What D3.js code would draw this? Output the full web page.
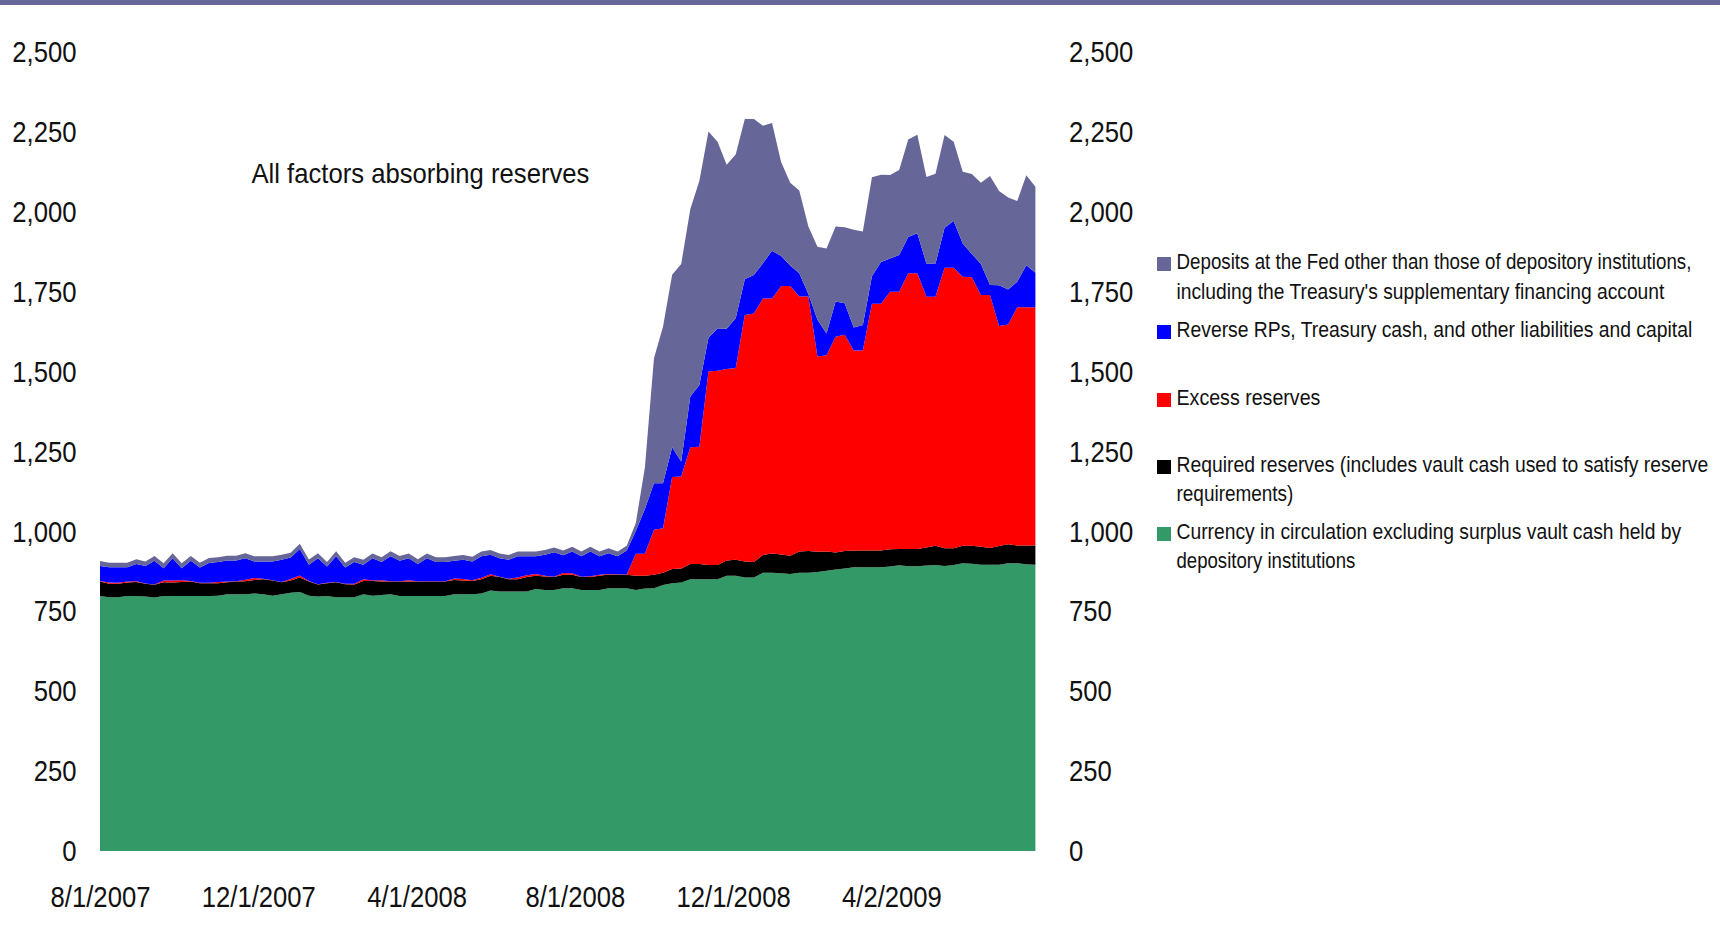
<!DOCTYPE html>
<html>
<head>
<meta charset="utf-8">
<script src="https://cdn.jsdelivr.net/npm/d3@7"></script>
<style>
  html, body { margin: 0; padding: 0; background: #ffffff; }
  svg { display: block; font-family: "Liberation Sans", Arial, sans-serif; }
</style>
</head>
<body>
<svg id="chart" width="1720" height="946"></svg>
<script>
// Weekly Wednesday observations, 8/1/2007 through 7/22/2009 (billions of dollars)
const firstWeek = "2007-08-01";
const lastWeek = "2009-07-22";

const currency = [
  798, 794, 794, 798, 798, 796, 793, 798, 798, 798, 798, 798, 798, 799, 803, 803, 803, 806, 803, 799, 803, 808, 810, 799, 796, 798,
  794, 794, 794, 803, 799, 801, 803, 798, 798, 798, 798, 798, 798, 803, 803, 803, 806, 815, 812, 812, 812, 812, 820, 817, 817, 822,
  822, 817, 817, 817, 822, 822, 822, 817, 821, 822, 832, 838, 840, 850, 850, 850, 850, 861, 861, 856, 856, 871, 871, 869, 867, 871,
  871, 873, 877, 881, 884, 888, 888, 888, 888, 890, 894, 891, 891, 893, 895, 892, 895, 900, 899, 896, 896, 896, 900, 900, 897, 896
];

const requiredReserves = [
  45, 42, 42, 42, 44, 40, 40, 43, 42, 44, 45, 40, 40, 39, 38, 40, 41, 42, 47, 47, 38, 38, 46, 44, 38, 40,
  47, 41, 40, 42, 46, 42, 40, 45, 45, 45, 45, 45, 45, 45, 43, 42, 44, 46, 45, 38, 38, 45, 41, 42, 40, 42,
  42, 40, 40, 44, 43, 42, 42, 44, 40, 42, 39, 44, 44, 48, 48, 45, 45, 48, 50, 50, 48, 55, 60, 59, 57, 66,
  68, 63, 60, 53, 55, 52, 52, 52, 52, 54, 51, 54, 54, 57, 60, 55, 52, 55, 56, 56, 52, 58, 60, 56, 59, 60
];

const excessReserves = [
  2, 4, 3, 3, 2, 1, 1, 5, 6, 5, 2, 1, 1, 4, 2, 1, 5, 6, 2, 1, 1, 5, 6, 2, 1, 1,
  1, 1, 2, 5, 1, 4, 1, 1, 4, 1, 1, 1, 1, 5, 5, 2, 5, 5, 1, 2, 6, 6, 6, 2, 1, 6,
  5, 1, 3, 3, 2, 2, 1,
  69, 69, 141, 139, 288, 288, 365, 367, 605, 608, 599, 600, 771, 778, 803, 798, 840, 844, 798, 796,
  611, 614, 675, 676, 626, 626, 772, 772, 806, 805, 863, 863, 784, 779, 878, 878, 842, 840, 788, 792,
  689, 687, 745, 745, 745
];

const reverseRPs = [
  47, 48, 49, 45, 54, 55, 74, 39, 70, 38, 63, 48, 62, 62, 66, 65, 67, 52, 54, 59, 69, 67, 83, 51, 81, 51,
  80, 51, 68, 46, 70, 57, 78, 64, 69, 54, 72, 60, 60, 55, 60, 59, 67, 61, 58, 59, 66, 59, 55, 66, 77, 55,
  68, 64, 77, 58, 65, 56, 75,
  71, 140, 146, 141, 93, 47, 159, 193, 106, 132, 126, 156, 112, 120, 110, 149, 94, 64, 73, 8,
  115, 68, 110, 99, 72, 80, 86, 131, 104, 115, 113, 125, 104, 104, 125, 146, 104, 73, 97, 31,
  127, 110, 80, 132, 108
];

const otherDeposits = [
  15, 14, 14, 14, 15, 14, 15, 15, 16, 15, 15, 15, 16, 15, 15, 15, 16, 16, 16, 16, 16, 15, 16, 16, 16, 14,
  16, 15, 15, 15, 15, 15, 16, 15, 15, 15, 15, 15, 15, 15, 15, 15, 15, 15, 15, 15, 15, 15, 15, 15, 15, 15,
  15, 15, 15, 15, 15, 15, 15,
  25, 130, 391, 490, 540, 618, 586, 639, 645, 584, 513, 512, 501, 488, 430, 400, 294, 259, 259, 211,
  229, 266, 235, 238, 306, 292, 310, 273, 261, 266, 305, 308, 271, 281, 290, 248, 224, 250, 254, 341,
  295, 288, 253, 281, 269
];

// Stack order: bottom to top
const seriesKeys = ["currency", "required", "excess", "reverse", "deposits"];
const seriesColors = {
  currency: "#339966",
  required: "#000000",
  excess: "#ff0000",
  reverse: "#0000ff",
  deposits: "#666699"
};

// Legend entries, top to bottom, with their line breaks
const legendItems = [
  { key: "deposits", lines: ["Deposits at the Fed other than those of depository institutions,", "including the Treasury's supplementary financing account"], widths: [515, 488] },
  { key: "reverse", lines: ["Reverse RPs, Treasury cash, and other liabilities and capital"], widths: [516] },
  { key: "excess", lines: ["Excess reserves"], widths: [144] },
  { key: "required", lines: ["Required reserves (includes vault cash used to satisfy reserve", "requirements)"], widths: [532, 117] },
  { key: "currency", lines: ["Currency in circulation excluding surplus vault cash held by", "depository institutions"], widths: [505, 179] }
];
const legendBaselines = [[269, 299], [337], [405], [472, 501], [539, 568]];

const yTickValues = [0, 250, 500, 750, 1000, 1250, 1500, 1750, 2000, 2250, 2500];
const xTickDates = ["2007-08-01", "2007-12-01", "2008-04-01", "2008-08-01", "2008-12-01", "2009-04-02"];

const chartTitle = "All factors absorbing reserves";

// ---------------------------------------------------------------
const parseDay = d3.utcParse("%Y-%m-%d");
const startDate = parseDay(firstWeek);
const endDate = parseDay(lastWeek);
const weeks = d3.utcWednesday.range(startDate, d3.utcDay.offset(endDate, 1));

const rows = weeks.map((date, i) => ({
  date,
  currency: currency[i],
  required: requiredReserves[i],
  excess: excessReserves[i],
  reverse: reverseRPs[i],
  deposits: otherDeposits[i]
}));

const svg = d3.select("#chart");

const plot = { left: 100, right: 1035.4, top: 52, bottom: 851 };

const x = d3.scaleUtc().domain([startDate, endDate]).range([plot.left, plot.right]);
const y = d3.scaleLinear().domain([0, 2500]).range([plot.bottom, plot.top]);

// Thin band along the top edge
svg.append("rect")
  .attr("x", 0).attr("y", 0)
  .attr("width", 1720).attr("height", 5)
  .attr("fill", "#666699");

// Stacked areas
const stacked = d3.stack().keys(seriesKeys)(rows);
const area = d3.area()
  .x(d => x(d.data.date))
  .y0(d => y(d[0]))
  .y1(d => y(d[1]));

svg.append("g")
  .selectAll("path")
  .data(stacked)
  .join("path")
  .attr("d", area)
  .attr("fill", s => seriesColors[s.key])
  .attr("stroke", "none");

// Squeeze text horizontally to a narrow face
function condense(sel, k) {
  sel.each(function () {
    const w = this.getComputedTextLength();
    this.setAttribute("textLength", (w * k).toFixed(1));
    this.setAttribute("lengthAdjust", "spacingAndGlyphs");
  });
}

function styleAxis(g) {
  g.attr("font-family", null).attr("font-size", null);
  g.select(".domain").remove();
  g.selectAll(".tick line").remove();
  g.selectAll("text")
    .attr("font-size", 30)
    .attr("fill", "#111111");
}

const fmt = d3.format(",");

const leftAxis = svg.append("g")
  .attr("transform", `translate(${plot.left},0)`)
  .call(d3.axisLeft(y).tickValues(yTickValues).tickFormat(fmt).tickSize(0).tickPadding(23.5));
styleAxis(leftAxis);

const rightAxis = svg.append("g")
  .attr("transform", `translate(${plot.right},0)`)
  .call(d3.axisRight(y).tickValues(yTickValues).tickFormat(fmt).tickSize(0).tickPadding(33.6));
styleAxis(rightAxis);

const bottomAxis = svg.append("g")
  .attr("transform", `translate(0,${plot.bottom})`)
  .call(d3.axisBottom(x).tickValues(xTickDates.map(parseDay)).tickFormat(d3.utcFormat("%-m/%-d/%Y")).tickSize(0).tickPadding(34.4));
styleAxis(bottomAxis);

condense(svg.selectAll(".tick text"), 0.855);

// Chart title inside the plot
svg.append("text")
  .attr("x", 251.4)
  .attr("y", 183)
  .attr("font-size", 28)
  .attr("fill", "#111111")
  .attr("textLength", 338)
  .attr("lengthAdjust", "spacingAndGlyphs")
  .text(chartTitle);

// Legend: each line is scaled horizontally to its narrow set width
const legend = svg.append("g");
legendItems.forEach((item, i) => {
  const base = legendBaselines[i];
  legend.append("rect")
    .attr("x", 1157)
    .attr("y", base[0] - 12)
    .attr("width", 14)
    .attr("height", 14)
    .attr("fill", seriesColors[item.key]);
  item.lines.forEach((line, j) => {
    const holder = legend.append("g");
    const t = holder.append("text")
      .attr("x", 0)
      .attr("y", 0)
      .attr("font-size", 22)
      .attr("fill", "#111111")
      .text(line);
    const natural = t.node().getComputedTextLength();
    const kx = item.widths[j] / natural;
    holder.attr("transform", `translate(1176.5,${base[j]}) scale(${kx.toFixed(4)},1)`);
  });
});
</script>
</body>
</html>
